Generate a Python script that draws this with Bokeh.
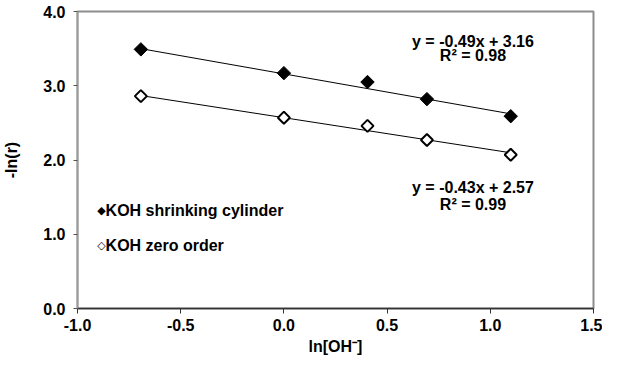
import math
from bokeh.plotting import figure
from bokeh.models import Range1d, Label, FixedTicker, ColumnDataSource, CustomJSTickFormatter
from bokeh.embed import file_html
from bokeh.resources import INLINE

# data
ln_oh = [-0.693, 0.0, 0.405, 0.693, 1.099]
shrinking_cylinder = [3.49, 3.17, 3.05, 2.82, 2.59]
zero_order = [2.86, 2.57, 2.46, 2.27, 2.07]
fit_slope = [-0.49, -0.43]
fit_intercept = [3.16, 2.57]
fit_r2 = [0.98, 0.99]
series_names = ["KOH shrinking cylinder", "KOH zero order"]
x_ticks = [-1.0, -0.5, 0.0, 0.5, 1.0, 1.5]
y_ticks = [0.0, 1.0, 2.0, 3.0, 4.0]

FONT = "Liberation Sans"

p = figure(width=602, height=358, output_backend="svg", toolbar_location=None,
           x_range=Range1d(-1.0, 1.5), y_range=Range1d(0.0, 4.0),
           min_border_left=72, min_border_right=9, min_border_top=11, min_border_bottom=50)
p.grid.visible = False
p.background_fill_color = "white"
p.border_fill_color = "white"
p.outline_line_color = "#8c8c8c"
p.outline_line_width = 2

fmt = CustomJSTickFormatter(code="return tick.toFixed(1);")
for ax, ticks in ((p.xaxis, x_ticks), (p.yaxis, y_ticks)):
    ax.ticker = FixedTicker(ticks=ticks)
    ax.formatter = fmt
    ax.minor_tick_line_color = None
    ax.major_tick_in = 0
    ax.major_tick_out = 5
    ax.major_label_text_font = FONT
    ax.major_label_text_font_style = "bold"
    ax.major_label_text_font_size = "16px"
    ax.major_label_text_color = "black"
    ax.axis_label_text_font = FONT
    ax.axis_label_text_font_style = "bold"
    ax.axis_label_text_font_size = "16px"
    ax.axis_label_text_color = "black"

p.xaxis.axis_label = "ln[OH\u207b]"
p.yaxis.axis_label = "-ln(r)"
p.xaxis.axis_line_color = "#333333"
p.xaxis.axis_line_width = 1.5
p.xaxis.major_tick_line_color = "#333333"
p.yaxis.axis_line_color = "#9a9a9a"
p.yaxis.axis_line_width = 1.5
p.yaxis.major_tick_line_color = "#555555"
p.yaxis.major_tick_out = 4
p.yaxis.major_label_standoff = 8
p.yaxis.axis_label_standoff = 20
p.xaxis.major_label_standoff = 5
p.xaxis.axis_label_standoff = 4

# trendlines from first to last x
x0, x1 = min(ln_oh), max(ln_oh)
for m, b in zip(fit_slope, fit_intercept):
    p.line([x0, x1], [m * x0 + b, m * x1 + b], line_color="black", line_width=1)

src1 = ColumnDataSource(dict(x=ln_oh, y=shrinking_cylinder))
src2 = ColumnDataSource(dict(x=ln_oh, y=zero_order))
p.scatter("x", "y", source=src1, marker="square", angle=math.pi / 4, size=9.5,
          fill_color="black", line_color="black", line_width=1)
p.scatter("x", "y", source=src2, marker="square", angle=math.pi / 4, size=8.5,
          fill_color="white", line_color="black", line_width=2)

# equation labels
eq_pos = [(0.916, 3.60, 3.41), (0.916, 1.63, 1.40)]
for (ex, ey1, ey2), m, b, r2 in zip(eq_pos, fit_slope, fit_intercept, fit_r2):
    for txt, yy in ((f"y = {m:.2f}x + {b:.2f}", ey1), (f"R\u00b2 = {r2:.2f}", ey2)):
        p.add_layout(Label(x=ex, y=yy, text=txt, text_align="center", text_baseline="middle",
                           text_font=FONT, text_font_style="bold", text_font_size="16px",
                           text_color="black"))

# legend
leg = [("\u25c6", series_names[0], 1.324), ("\u25c7", series_names[1], 0.851)]
for sym, name, yy in leg:
    p.add_layout(Label(x=-0.884, y=yy, text=sym, text_align="center", text_baseline="middle",
                       text_font="DejaVu Sans", text_font_size="11px", text_color="black"))
    p.add_layout(Label(x=-0.864, y=yy, text=name, text_align="left", text_baseline="middle",
                       text_font=FONT, text_font_style="bold", text_font_size="16px",
                       text_color="black"))

open("out.html", "w").write(file_html(p, INLINE))
